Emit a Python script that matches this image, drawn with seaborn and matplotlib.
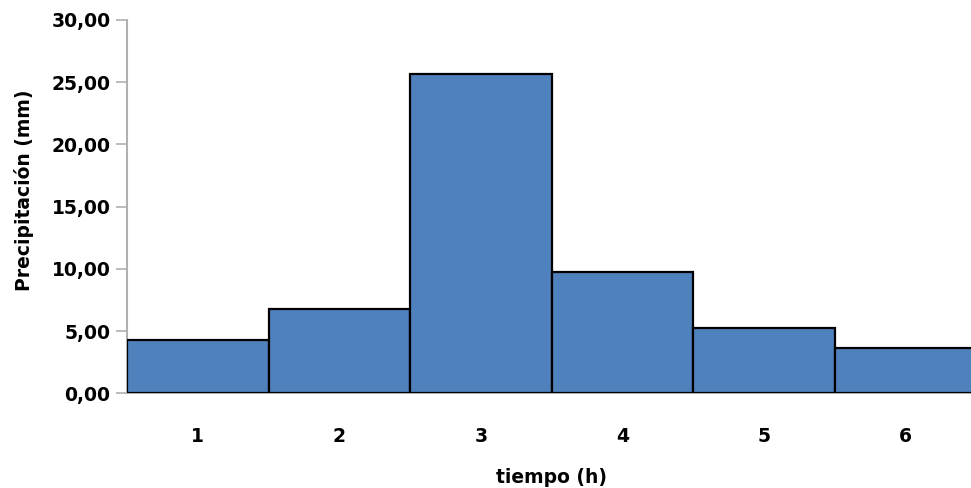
import matplotlib
matplotlib.use("Agg")
import matplotlib.pyplot as plt
import seaborn as sns
import pandas as pd

hours = ["1", "2", "3", "4", "5", "6"]
precip = [4.28, 6.75, 25.66, 9.72, 5.25, 3.67]
yticks = [0, 5, 10, 15, 20, 25, 30]
ytick_labels = ["0,00", "5,00", "10,00", "15,00", "20,00", "25,00", "30,00"]

sns.set_theme(style="white")
plt.rcParams["font.family"] = ["DejaVu Sans"]
plt.rcParams["font.weight"] = "bold"

df = pd.DataFrame({"tiempo": hours, "precip": precip})

fig = plt.figure(figsize=(9.71, 4.88), dpi=100)
ax = fig.add_axes([127 / 971, 1 - 393.3 / 488, 849 / 971, (393.3 - 20) / 488])

sns.barplot(data=df, x="tiempo", y="precip", color="#4F81BD", saturation=1,
            width=1.0, edgecolor="black", linewidth=1.6, ax=ax, zorder=3)

ax.set_ylim(0, 30)
ax.set_xlim(-0.5, 5.5)
ax.set_yticks(yticks)
ax.set_yticklabels(ytick_labels, fontsize=13.5, fontweight="bold", color="black")
for lbl in ax.get_xticklabels():
    lbl.set_fontsize(13.5)
    lbl.set_fontweight("bold")
    lbl.set_color("black")

ax.tick_params(axis="y", which="major", left=True, length=8, width=1.2,
               color="#B0B0B0", pad=4, direction="out")
ax.tick_params(axis="x", which="major", bottom=False, length=0, pad=24)

for s in ["top", "right"]:
    ax.spines[s].set_visible(False)
for s in ["left", "bottom"]:
    ax.spines[s].set_color("#B0B0B0")
    ax.spines[s].set_linewidth(1.5)

ax.set_xlabel("tiempo (h)", fontsize=13.5, fontweight="bold", color="black")
ax.set_ylabel("Precipitación (mm)", fontsize=13.5, fontweight="bold", color="black")
ax.xaxis.set_label_coords(0.5, -0.2)
ax.yaxis.set_label_coords(-0.11, 0.543)
ax.grid(False)

fig.savefig("out.png", dpi=100)
